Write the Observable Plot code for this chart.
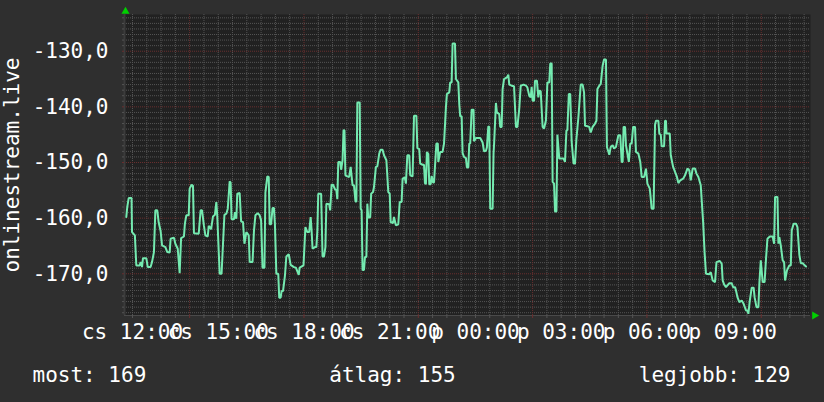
<!DOCTYPE html>
<html>
<head>
<meta charset="utf-8">
<script src="https://cdn.jsdelivr.net/npm/d3@7"></script>
<script src="https://cdn.jsdelivr.net/npm/@observablehq/plot@0.6"></script>
<style>
  html, body { margin: 0; padding: 0; background: #2f2f2f; }
  #chart { width: 824px; height: 402px; overflow: hidden; }
</style>
</head>
<body>
<div id="chart"></div>
<script>
// Minutes after Thursday 12:00 (cs 12:00) for each vertex of the line
const minutes = [
  -13,-11,-8,-2,-1,5,8,15,17,20,22,29,32,38,41,45,48,52,55,59,62,69,73,78,80,87,90,95,99,102,108,110,113,118,120,124,127,129,139,143,146,150,153,158,160,165,169,173,176,178,180,183,187,190,193,197,200,204,206,208,213,215,218,220,225,228,232,235,239,244,246,252,255,258,263,267,270,273,277,279,283,286,288,291,294,297,299,302,306,308,311,313,316,320,323,328,332,339,
  343,349,351,359,363,367,371,374,376,378,383,386,388,390,396,399,402,405,407,413,415,418,421,425,428,430,432,436,438,441,443,445,447,451,455,458,462,465,468,470,472,477,479,481,483,486,488,491,493,495,499,501,505,507,511,514,518,521,525,528,533,537,540,542,547,549,553,558,561,565,567,572,574,577,581,583,588,591,596,598,602,604,609,612,614,616,618,621,623,626,628,631,633,638,641,642,646,651,654,658,660,665,667,670,672,677,679,684,686,688,691,693,696,700,702,705,
  707,709,712,716,717,721,730,735,738,742,744,747,749,751,756,758,759,763,765,770,772,775,777,780,786,789,791,796,801,805,808,812,815,821,826,829,833,836,838,840,843,845,849,852,854,857,861,864,868,871,875,877,880,882,885,887,890,892,896,905,908,911,913,916,919,922,926,929,932,936,941,945,948,950,955,959,962,966,971,974,976,980,983,987,990,994,996,1001,1004,1008,1011,1015,1020,1024,1027,1029,1031,1034,1036,1039,1042,1045,1048,1051,1055,1057,1062,1066,1069,1074,
  1078,1081,1086,1090,1094,1097,1099,1104,1106,1109,1111,1116,1118,1120,1121,1128,1130,1135,1139,1143,1146,1150,1156,1160,1165,1169,1172,1176,1181,1184,1188,1193,1195,1198,1201,1204,1211,1214,1218,1223,1226,1233,1237,1239,1242,1246,1249,1253,1258,1261,1265,1267,1270,1274,1279,1283,1288,1291,1293,1296,1300,1304,1306,1310,1314,1316,1319,1323,1327,1330,1333,1338,1344,1347,1349,1354,1356,1358,1361,1365,1368,1370,1374,1379,1382,1384,1388,1393,1396,1400,1403,1407,1410,1414
];
const values = [
  -159.8,-158.0,-156.4,-156.4,-162.5,-163.1,-168.5,-168.5,-167.9,-168.8,-167.2,-167.2,-168.8,-168.8,-167.9,-166.1,-158.6,-158.6,-160.8,-162.3,-164.9,-165.2,-166.1,-166.2,-163.7,-163.5,-164.6,-165.5,-169.9,-163.6,-163.3,-161.0,-159.5,-159.5,-154.7,-154.0,-154.2,-162.7,-162.8,-158.6,-158.6,-161.4,-163.1,-163.3,-161.4,-162.0,-159.7,-159.4,-157.1,-159.7,-163.9,-170.0,-170.0,-164.6,-159.4,-159.2,-158.3,-153.4,-153.6,-160.2,-160.2,-158.9,-160.1,-155.6,-155.5,-160.6,-160.7,-164.6,-162.5,-163.1,-167.9,-167.9,-162.3,-159.5,-159.1,-159.5,-160.4,-168.9,-168.9,-155.4,-152.5,-152.6,-161.1,-161.1,-158.2,-158.2,-161.1,-170.0,-170.0,-174.3,-174.3,-173.1,-173.1,-170.4,-166.9,-166.5,-168.4,-168.8,
  -168.9,-170.2,-168.9,-168.5,-161.6,-162.5,-162.5,-159.8,-162.2,-165.5,-165.2,-165.2,-162.4,-155.6,-155.6,-166.9,-166.9,-165.2,-157.4,-157.5,-158.6,-154.0,-154.0,-154.8,-155.0,-156.6,-149.9,-149.9,-151.3,-149.6,-144.2,-144.2,-152.3,-152.5,-152.6,-150.8,-154.1,-154.1,-156.9,-157.1,-139.2,-139.2,-158.3,-158.6,-169.3,-169.3,-167.0,-167.0,-157.4,-159.9,-159.9,-155.6,-155.3,-154.4,-150.8,-150.7,-148.4,-147.7,-147.7,-148.7,-149.6,-155.3,-155.6,-160.7,-160.9,-159.8,-161.3,-161.1,-157.1,-157.1,-152.9,-152.7,-153.8,-148.7,-148.7,-152.3,-152.5,-141.6,-141.6,-147.4,-147.6,-150.2,-150.4,-150.4,-153.7,-153.9,-148.1,-148.5,-153.9,-153.9,-152.4,-153.6,-153.6,-146.6,-146.6,-149.9,-148.1,-148.1,-146.6,-140.1,-137.7,-137.4,-135.6,-135.6,-128.6,-128.6,-135.0,-135.6,-139.5,-141.7,-141.7,-148.3,-149.0,-149.2,-150.9,-150.9,
  -146.6,-146.6,-140.5,-140.5,-146.2,-145.6,-145.6,-146.4,-148.0,-147.9,-147.3,-143.5,-143.6,-158.3,-158.3,-148.3,-146.9,-139.3,-141.0,-141.3,-143.6,-143.6,-136.8,-135.0,-134.7,-134.2,-136.0,-136.2,-136.3,-143.6,-143.6,-140.3,-136.2,-136.0,-136.2,-136.5,-138.0,-138.3,-136.4,-138.9,-138.9,-135.3,-135.3,-138.3,-137.1,-137.2,-143.6,-143.9,-142.4,-135.6,-135.6,-132.2,-132.2,-153.5,-153.8,-158.8,-158.8,-145.0,-149.3,-149.3,-149.9,-144.2,-144.2,-137.7,-137.7,-146.3,-150.2,-150.2,-145.7,-142.0,-136.0,-136.0,-137.4,-143.4,-143.5,-143.6,-144.6,-143.6,-143.0,-142.5,-136.8,-136.2,-135.9,-132.6,-131.5,-131.5,-147.2,-148.6,-147.2,-146.9,-147.5,-147.2,-145.1,-145.1,-149.9,-149.9,-143.6,-143.6,-146.9,-148.4,-149.9,-146.6,-146.6,-143.6,-143.6,-148.1,-148.4,-149.9,-152.6,-152.6,
  -151.1,-153.8,-154.7,-158.3,-158.3,-143.2,-142.5,-142.5,-144.8,-145.0,-147.1,-147.1,-142.5,-142.5,-144.8,-144.8,-148.7,-150.8,-151.7,-152.6,-153.7,-153.2,-152.9,-152.3,-151.1,-151.4,-153.2,-151.1,-151.1,-152.0,-152.6,-154.1,-156.8,-160.7,-166.1,-170.0,-170.1,-169.7,-171.2,-171.5,-167.9,-167.7,-168.2,-171.2,-171.9,-172.4,-172.1,-171.7,-171.7,-172.4,-172.4,-173.0,-174.2,-175.1,-174.8,-175.4,-176.6,-176.6,-177.2,-174.8,-172.5,-172.5,-174.2,-176.0,-176.0,-171.8,-167.6,-171.5,-171.5,-167.3,-163.7,-163.3,-163.3,-164.6,-156.2,-156.2,-164.6,-163.4,-164.9,-167.6,-167.9,-171.2,-169.4,-168.5,-168.5,-162.2,-161.0,-161.0,-161.6,-166.6,-168.1,-168.1,-168.4,-168.7
];

// Axis texts
const yTicks = [-170, -160, -150, -140, -130];
const xTickHours = [0, 3, 6, 9, 12, 15, 18, 21];
const xTickLabels = ["cs 12:00", "cs 15:00", "cs 18:00", "cs 21:00", "p 00:00", "p 03:00", "p 06:00", "p 09:00"];
const yTitle = "onlinestream.live";
const legendLabels = ["most:", "átlag:", "legjobb:"];
const legendValues = [169, 155, 129];

// ---- build ----
const t0 = Date.UTC(2024, 0, 4, 12, 0); // Thursday 12:00
const at = (m) => new Date(t0 + m * 60000);
const data = minutes.map((m, i) => ({t: at(m), v: values[i]}));
const xDomain = [at(-16.8), at(1423.4)];
const yDomain = [-177.5, -123.4];

const minorY = d3.range(-177, -123).filter((v) => v % 10 !== 0);
const majorY = yTicks;
const halfHours = d3.range(0, 1440, 30);
const majorX = halfHours.filter((m) => m % 240 === 120); // 14:00, 18:00, ...
const minorX = halfHours.filter((m) => m % 240 !== 120);
const labelTicks = xTickHours.map((h, i) => ({t: at(h * 60), label: xTickLabels[i]}));

const gray = "#545454";
const red = "#6a2f2f";
const font = "DejaVu Sans Mono";

const chart = Plot.plot({
  width: 824,
  height: 402,
  marginLeft: 124,
  marginRight: 14,
  marginTop: 14,
  marginBottom: 87,
  style: {background: "#2f2f2f", color: "#ffffff", fontFamily: font, fontSize: "21px", overflow: "visible"},
  x: {type: "utc", domain: xDomain, axis: null},
  y: {domain: yDomain, axis: null},
  marks: [
    Plot.frame({fill: "#212121", stroke: null}),
    Plot.ruleY(minorY, {stroke: gray, strokeDasharray: "1,1"}),
    Plot.ruleX(minorX.map(at), {stroke: gray, strokeDasharray: "1,1"}),
    Plot.ruleY(majorY, {stroke: red, strokeDasharray: "1,1"}),
    Plot.ruleX(majorX.map(at), {stroke: red, strokeDasharray: "1,1"}),
    // axis lines
    Plot.ruleX([xDomain[0]], {stroke: "#3c3c3c", strokeWidth: 2}),
    Plot.ruleY([yDomain[0]], {stroke: "#4a4a4a"}),
    // tick marks
    Plot.axisX(minorX.map(at), {tickSize: 3, tickFormat: () => "", stroke: gray, anchor: "bottom", label: null}),
    Plot.axisX(majorX.map(at), {tickSize: 3, tickFormat: () => "", stroke: red, anchor: "bottom", label: null}),
    Plot.axisY(minorY, {tickSize: 2, tickFormat: () => "", stroke: gray, anchor: "left", label: null}),
    Plot.axisY(majorY, {tickSize: 2, tickFormat: () => "", stroke: red, anchor: "left", label: null}),
    // data line
    Plot.line(data, {x: "t", y: "v", stroke: "#74eab0", strokeWidth: 2, strokeLinejoin: "miter", curve: "linear"}),
    // y tick labels
    Plot.text(yTicks, {
      y: (d) => d, frameAnchor: "left", dx: -16, textAnchor: "end",
      text: (d) => d3.format(".1f")(d).replace(".", ",").replace("−", "-"),
      fill: "#ffffff", fontSize: 21, fontFamily: font
    }),
    // x tick labels
    Plot.text(labelTicks, {
      x: "t", text: "label", frameAnchor: "bottom", lineAnchor: "top", dy: 9,
      fill: "#ffffff", fontSize: 21, fontFamily: font
    }),
    // y title
    Plot.text([yTitle], {
      text: (d) => d, frameAnchor: "left", textAnchor: "middle", lineAnchor: "middle", rotate: -90, dx: -112,
      fill: "#ffffff", fontSize: 21, fontFamily: font
    }),
    // arrows
    Plot.dot([0], {x: () => xDomain[0], y: () => yDomain[1], symbol: "triangle", r: 3, fill: "#00d000", stroke: null, dx: 1, dy: -3}),
    Plot.dot([0], {x: () => xDomain[1], y: () => yDomain[0], symbol: "triangle", rotate: 90, r: 3, fill: "#00d000", stroke: null, dx: 4}),
    // legend
    Plot.text([`${legendLabels[0]} ${legendValues[0]}`], {text: (d) => d, frameAnchor: "bottom-left", textAnchor: "start", lineAnchor: "bottom", dx: -92, dy: 66, fill: "#ffffff", fontSize: 21, fontFamily: font}),
    Plot.text([`${legendLabels[1]} ${legendValues[1]}`], {text: (d) => d, frameAnchor: "bottom-left", textAnchor: "middle", lineAnchor: "bottom", dx: 268, dy: 66, fill: "#ffffff", fontSize: 21, fontFamily: font}),
    Plot.text([`${legendLabels[2]} ${legendValues[2]}`], {text: (d) => d, frameAnchor: "bottom-left", textAnchor: "end", lineAnchor: "bottom", dx: 666, dy: 66, fill: "#ffffff", fontSize: 21, fontFamily: font})
  ]
});
document.getElementById("chart").appendChild(chart);
</script>
</body>
</html>
